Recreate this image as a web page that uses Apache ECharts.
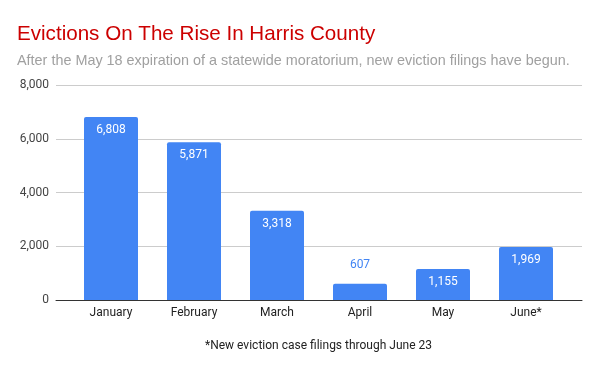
<!DOCTYPE html>
<html><head><meta charset="utf-8">
<script src="https://cdn.jsdelivr.net/npm/echarts@6/dist/echarts.min.js"></script>
<style>html,body{margin:0;padding:0;background:#fff}#c{width:600px;height:371px}</style>
</head><body><div id="c"></div>
<script>
const categories = ['January','February','March','April','May','June*'];
const values = [6808, 5871, 3318, 607, 1155, 1969];
const yTicks = [0, 2000, 4000, 6000, 8000];
const titleText = 'Evictions On The Rise In Harris County';
const subtitleText = 'After the May 18 expiration of a statewide moratorium, new eviction filings have begun.';
const footnote = '*New eviction case filings through June 23';

const chart = echarts.init(document.getElementById('c'), null, {renderer:'canvas'});
const fmt = v => v.toLocaleString('en-US');
const data = values.map((v, i) => {
  const small = v < 1000;
  return {
    value: v,
    label: small ? {position:'top', distance: 13, color:'#4285F4'} : {position:'insideTop', distance: 7, color:'#ffffff'}
  };
});
chart.setOption({
  animation:false,
  title:[{
    text: titleText, left: 12, top: 19,
    textStyle:{color:'#cc0000', fontSize:20.6, fontWeight:'normal', fontFamily:'Liberation Sans, Arial'}
  },{
    text: subtitleText, left: 12, top: 49,
    textStyle:{color:'#a0a0a0', fontSize:14.4, fontWeight:'normal', fontFamily:'Liberation Sans, Arial'}
  }],
  grid:[
    {left:56, right:18, top:85, bottom:71},
    {left:69.5, right:32.5, top:85, bottom:71}
  ],
  xAxis:[
    {type:'category', gridIndex:0, data:[''], axisLine:{show:true, lineStyle:{color:'#333', width:1}}, axisTick:{show:false}, axisLabel:{show:false}},
    {type:'category', gridIndex:1, data:categories, axisLine:{show:false}, axisTick:{show:false},
      axisLabel:{color:'#222', fontSize:12, fontFamily:'Roboto, Arial', margin:7},
      name: footnote, nameLocation:'middle', nameGap:40,
      nameTextStyle:{color:'#222', fontSize:12, fontFamily:'Roboto, Arial'}}
  ],
  yAxis:[
    {type:'value', gridIndex:0, min:yTicks[0], max:yTicks[yTicks.length-1], interval:2000,
      axisLine:{show:false}, axisTick:{show:false},
      splitLine:{lineStyle:{color:'#cccccc'}},
      axisLabel:{color:'#444', fontSize:12, fontFamily:'Roboto, Arial', margin:7, formatter: v => fmt(v)}},
    {type:'value', gridIndex:1, min:yTicks[0], max:yTicks[yTicks.length-1], interval:2000,
      show:false, splitLine:{show:false}}
  ],
  series:[{
    type:'bar', xAxisIndex:1, yAxisIndex:1, data:data, barWidth:54,
    itemStyle:{color:'#4285F4', borderRadius:[2,2,0,0]},
    label:{show:true, fontSize:12, fontFamily:'Roboto, Arial', formatter: p => fmt(p.value)},
    z:3
  }]
});
</script></body></html>
